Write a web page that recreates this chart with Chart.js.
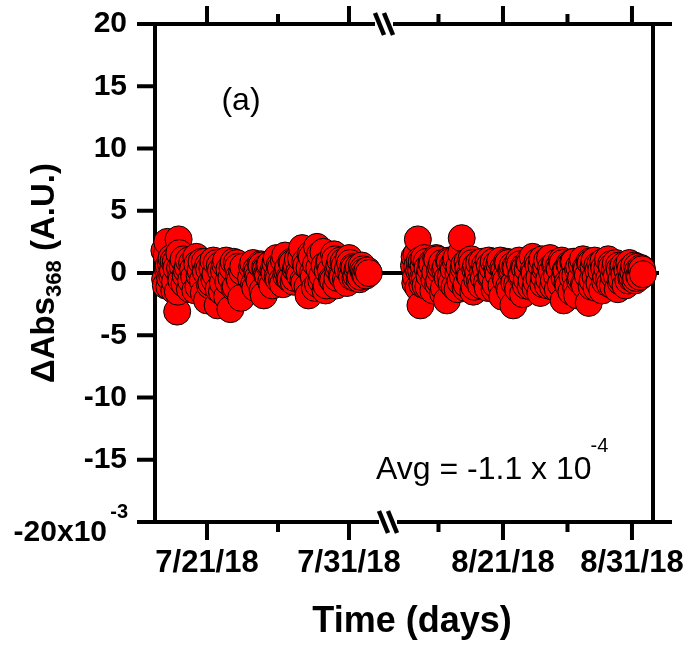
<!DOCTYPE html>
<html>
<head>
<meta charset="utf-8">
<script src="https://cdn.jsdelivr.net/npm/chart.js@4.4.0/dist/chart.umd.min.js"></script>
<style>
  html, body { margin: 0; padding: 0; background: #fff; }
  canvas { display: block; }
</style>
</head>
<body>
<canvas id="absChart" width="689" height="646"></canvas>
<script>
// July run: time as (fractional) day of July, delta Abs in 10^-3 A.U.
const julyTimes = [18.0, 18.1, 18.2, 18.3, 18.4, 18.5, 18.6, 18.7, 18.8, 18.9,
  19.0, 19.1, 19.2, 19.35, 19.5, 19.65, 19.8, 19.95, 20.1, 20.25, 20.4, 20.55, 20.7, 20.85,
  21.0, 21.15, 21.3, 21.45, 21.6, 21.75, 21.9, 22.05, 22.2, 22.35, 22.5, 22.65, 22.8, 22.95,
  23.1, 23.25, 23.4, 23.55, 24.1, 24.25, 24.4, 24.55, 24.7, 24.85, 25.0, 25.15, 25.3, 25.45,
  25.6, 25.75, 25.9, 26.05, 26.2, 26.35, 26.5, 26.65, 26.8, 26.95, 27.1, 27.25, 27.4, 27.55,
  27.7, 27.85, 28.0, 28.15, 28.3, 28.45, 28.6, 28.75, 28.9, 29.05, 29.2, 29.35, 29.5, 29.65,
  29.8, 29.95, 30.1, 30.25, 30.4, 30.55, 30.7, 30.85, 31.0, 31.15, 31.3, 31.45, 31.6, 31.75,
  31.9, 32.05, 32.2, 32.4];
const julyValues = [1.8, -1.0, 2.5, 0.6, -0.4, 1.2, 0.2, -1.4, 0.9, -3.1,
  2.7, 0.4, -0.6, 1.1, -0.2, 0.5, -1.3, 0.8, -0.3, 1.3, -1.1, 0.2, -0.6, 0.9,
  -2.2, 0.3, -0.8, 1.0, -0.1, -2.6, 0.6, -1.5, 0.2, 1.0, -0.7, -2.9, 0.4, -1.2,
  0.8, -0.3, -2.0, 0.5, -0.4, 0.8, -1.2, 0.1, -0.6, 0.6, -1.8, 0.3, -0.2, 0.7,
  -1.0, 0.0, 1.2, -0.5, 0.4, -0.9, 1.4, 0.1, -0.4, 0.9, -0.7, 0.3, 1.1, -0.2,
  2.0, -0.8, 0.6, -1.8, 1.5, 0.0, -1.2, 2.1, 0.4, -0.6, 1.7, -1.4, 0.2, 0.9,
  -0.5, 1.5, -1.0, 0.3, 1.0, -0.3, 0.6, -0.8, 1.2, 0.0, 0.5, -0.4, 0.3, -0.5,
  0.6, 0.1, -0.2, 0.0];
// second set of July readings between the ones above
const julyTimesB = [18.05, 18.15, 18.25, 18.35, 18.45, 18.55, 18.65, 18.75, 18.85, 18.95,
  19.05, 19.15, 19.28, 19.42, 19.58, 19.72, 19.88, 20.02, 20.18, 20.32,
  20.48, 20.62, 20.78, 20.92, 21.08, 21.22, 21.38, 21.52, 21.68, 21.82,
  21.98, 22.12, 22.28, 22.42, 22.58, 22.72, 22.88, 23.02, 23.18, 23.32,
  23.48, 24.18, 24.32, 24.48, 24.62, 24.78, 24.92, 25.08, 25.22, 25.38,
  25.52, 25.68, 25.82, 25.98, 26.12, 26.28, 26.42, 26.58, 26.72, 26.88,
  27.02, 27.18, 27.32, 27.48, 27.62, 27.78, 27.92, 28.08, 28.22, 28.38,
  28.52, 28.68, 28.82, 28.98, 29.12, 29.28, 29.42, 29.58, 29.72, 29.88,
  30.02, 30.18, 30.32, 30.48, 30.62, 30.78, 30.92, 31.08, 31.22, 31.38,
  31.52, 31.68, 31.82, 31.98, 32.12, 32.3];
const julyValuesB = [-0.5, 1.4, 0.3, -1.1, 0.8, -0.2, 1.0, -0.7, 0.4, -1.5,
  1.6, -0.4, 0.6, -0.9, 0.2, 1.0, -0.6, 0.3, -1.4, 0.7,
  -0.2, 0.9, -1.6, 0.1, 0.6, -1.0, 0.4, -0.5, 0.8, -1.3,
  0.2, -0.8, 0.7, -1.9, 0.3, -0.4, 0.9, -1.1, 0.5, -0.6,
  0.1, 0.5, -0.9, 0.3, -0.3, 0.7, -1.4, 0.4, -0.1, 0.6,
  -0.7, 0.2, 0.8, -0.3, 0.6, -0.6, 1.0, -0.2, 0.4, -0.5,
  0.8, -0.4, 0.5, 0.0, 1.2, -0.6, 0.9, -1.1, 0.4, 1.3,
  -0.3, 0.7, -0.9, 1.5, -0.2, 0.6, -1.0, 0.8, 0.2, -0.6,
  1.1, -0.4, 0.6, -0.2, 0.9, -0.5, 0.3, 0.8, -0.3, 0.4,
  -0.2, 0.5, -0.3, 0.3, -0.1, 0.2];

// August run: time as (fractional) day of August
const augTimes = [14.1, 14.2, 14.3, 14.4, 14.5, 14.6, 14.7, 14.8, 14.9, 15.0,
  15.15, 15.3, 15.45, 15.6, 15.75, 15.9, 16.05, 16.2, 16.35, 16.5, 16.65, 16.8, 16.95,
  17.1, 17.25, 17.4, 17.55, 17.7, 17.8, 17.95, 18.1, 18.25, 18.4, 18.55, 18.7, 18.85,
  19.0, 19.15, 19.3, 19.45, 19.6, 19.75, 19.9, 20.05, 20.2, 20.35, 20.5, 20.65, 20.8,
  20.95, 21.1, 21.25, 21.4, 21.55, 21.7, 21.8, 21.95, 22.1, 22.25, 22.4, 22.55, 22.7,
  22.85, 23.0, 23.15, 23.3, 23.45, 23.6, 23.75, 23.9, 24.05, 24.2, 24.35, 24.5, 24.65,
  24.8, 24.95, 25.1, 25.25, 25.4, 25.55, 25.7, 25.85, 26.0, 26.15, 26.3, 26.45, 26.6,
  26.75, 26.9, 27.05, 27.2, 27.35, 27.5, 27.65, 27.8, 27.95, 28.1, 28.25, 28.4, 28.55,
  28.7, 28.85, 29.0, 29.15, 29.3, 29.45, 29.6, 29.75, 29.9, 30.05, 30.2, 30.35, 30.5,
  30.65, 30.8, 30.95, 31.1, 31.25, 31.4, 31.55, 31.7, 31.85];
const augValues = [0.6, -0.8, 1.5, 2.7, 0.2, -2.6, 0.9, -0.4, 1.2, -1.0,
  0.4, -0.2, 0.8, -1.4, 0.1, 1.1, -0.6, 0.5, -1.6, 0.3, -2.2, 1.0, -0.3,
  0.6, -1.1, 1.2, 0.0, -0.7, 2.8, 0.4, -1.2, 0.9, -0.2, 1.1, -1.5, 0.3,
  -0.5, 0.8, -1.0, 0.1, 0.6, -0.8, 1.0, -0.3, 0.4, -1.3, 0.7, -0.1, 1.0,
  -1.9, 0.2, -0.6, 0.8, -1.4, 0.3, -2.6, 0.5, -0.9, 1.0, -0.2, -1.7, 0.4,
  -0.5, 0.9, -1.1, 1.3, 0.0, -0.7, 0.6, -1.6, 1.1, -0.3, 0.5, -1.0, 1.2,
  0.1, -0.6, 0.8, -1.3, 0.3, 1.0, -2.2, 0.2, -0.8, 0.7, -1.5, 0.9, -0.2,
  -1.8, 0.5, -0.4, 1.1, -1.0, 0.3, -2.4, 0.8, -0.6, 1.0, -1.2, 0.2, 0.7,
  -1.4, 0.4, -0.3, 1.1, -0.9, 0.5, -0.2, 0.8, -1.3, 0.3, -0.5, 0.6, -1.0,
  0.2, 0.8, -0.4, 0.1, -0.6, 0.5, -0.2, 0.4, -0.1];
// second set of August readings
const augTimesB = [14.15, 14.25, 14.35, 14.45, 14.55, 14.65, 14.75, 14.85, 14.95, 15.08,
  15.22, 15.38, 15.52, 15.68, 15.82, 15.98, 16.12, 16.28, 16.42, 16.58,
  16.72, 16.88, 17.02, 17.18, 17.32, 17.48, 17.62, 17.75, 17.88, 18.02,
  18.18, 18.32, 18.48, 18.62, 18.78, 18.92, 19.08, 19.22, 19.38, 19.52,
  19.68, 19.82, 19.98, 20.12, 20.28, 20.42, 20.58, 20.72, 20.88, 21.02,
  21.18, 21.32, 21.48, 21.62, 21.75, 21.88, 22.02, 22.18, 22.32, 22.48,
  22.62, 22.78, 22.92, 23.08, 23.22, 23.38, 23.52, 23.68, 23.82, 23.98,
  24.12, 24.28, 24.42, 24.58, 24.72, 24.88, 25.02, 25.18, 25.32, 25.48,
  25.62, 25.78, 25.92, 26.08, 26.22, 26.38, 26.52, 26.68, 26.82, 26.98,
  27.12, 27.28, 27.42, 27.58, 27.72, 27.88, 28.02, 28.18, 28.32, 28.48,
  28.62, 28.78, 28.92, 29.08, 29.22, 29.38, 29.52, 29.68, 29.82, 29.98,
  30.12, 30.28, 30.42, 30.58, 30.72, 30.88, 31.02, 31.18, 31.32, 31.48,
  31.62, 31.78];
const augValuesB = [1.3, -0.3, 0.5, -1.2, 1.0, 0.2, -0.9, 0.6, -0.4, 0.9,
  -1.1, 0.3, 0.7, -0.5, 1.2, -0.9, 0.2, 0.8, -1.2, 0.5,
  -0.4, 0.9, -0.8, 0.3, 1.0, -1.3, 0.5, 1.6, -0.2, 0.7,
  -0.9, 0.4, -0.3, 0.8, -1.1, 0.6, 0.1, -0.7, 0.9, -0.4,
  0.3, -1.2, 0.6, -0.2, 0.9, -0.9, 0.2, 0.7, -1.0, 0.4,
  -0.3, 0.9, -1.1, 0.2, 0.6, -0.8, 0.4, -1.3, 0.7, -0.1,
  0.5, -1.0, 0.3, 0.8, -0.6, 0.2, -1.2, 0.9, -0.4, 0.6,
  -0.9, 0.3, 1.0, -0.5, 0.4, -1.1, 0.7, -0.2, 0.5, -0.9,
  0.8, -0.4, 0.2, -1.0, 0.6, -0.3, 0.9, -1.2, 0.3, -0.6,
  0.7, -0.9, 0.4, -0.2, 0.9, -1.1, 0.5, -0.3, 0.6, -0.8,
  0.2, 0.9, -0.7, 0.4, -0.5, 0.7, -1.0, 0.3, -0.2, 0.6,
  -0.7, 0.4, -0.1, 0.5, -0.6, 0.3, -0.3, 0.6, -0.4, 0.2,
  -0.3, 0.3];

// axis ticks (day of month) and labels
const julyMajor = [21, 31];
const julyMinor = [26];
const julyLabels = ['7/21/18', '7/31/18'];
const augMajor = [21, 31];
const augMinor = [16, 26];
const augLabels = ['8/21/18', '8/31/18'];
const yMin = -20, yMax = 20, yStep = 5;

const FONT = '"Liberation Sans", Arial, sans-serif';

// merge both reading sets and keep them in time order (drawn in sequence)
function series(tA, vA, tB, vB) {
  const pts = tA.map((t, i) => ({ x: t, y: vA[i] }))
    .concat(tB.map((t, i) => ({ x: t, y: vB[i] })));
  return pts.sort((p, q) => p.x - q.x);
}

const axisFrame = {
  id: 'axisFrame',
  beforeDatasetsDraw(chart) {
    const { ctx, chartArea: a, scales } = chart;
    const xj = scales.xJuly, xa = scales.xAug, y = scales.y;
    const left = a.left - 18, right = a.right + 19;
    ctx.save();
    ctx.strokeStyle = '#000';
    ctx.lineWidth = 4;
    ctx.lineCap = 'butt';

    // zero line behind the points
    ctx.beginPath();
    ctx.moveTo(a.left, y.getPixelForValue(0));
    ctx.lineTo(a.right + 6, y.getPixelForValue(0));
    ctx.stroke();

    // vertical axes
    ctx.beginPath();
    ctx.moveTo(a.left, a.top - 2); ctx.lineTo(a.left, a.bottom + 2);
    ctx.moveTo(a.right, a.top - 2); ctx.lineTo(a.right, a.bottom + 2);
    ctx.stroke();

    // horizontal axes with break
    [[a.top, 384], [a.bottom, 388]].forEach(([yy, brk]) => {
      ctx.beginPath();
      ctx.moveTo(left, yy); ctx.lineTo(brk - 9, yy);
      ctx.moveTo(brk + 9, yy); ctx.lineTo(right, yy);
      ctx.stroke();
      ctx.save();
      ctx.lineWidth = 4.5;
      [-4.5, 4.5].forEach(o => {
        ctx.beginPath();
        ctx.moveTo(brk + o - 4.5, yy - 11);
        ctx.lineTo(brk + o + 4.5, yy + 11);
        ctx.stroke();
      });
      ctx.restore();
    });

    // y ticks (outside, left)
    ctx.beginPath();
    for (let v = yMin; v <= yMax; v += yStep) {
      const py = y.getPixelForValue(v);
      ctx.moveTo(left, py); ctx.lineTo(a.left, py);
    }
    ctx.stroke();

    // x ticks, bottom (down) and top (up)
    const xt = (scale, days, len) => {
      days.forEach(d => {
        const px = scale.getPixelForValue(d);
        ctx.moveTo(px, a.bottom); ctx.lineTo(px, a.bottom + len);
        ctx.moveTo(px, a.top); ctx.lineTo(px, a.top - len);
      });
    };
    ctx.beginPath();
    xt(xj, julyMajor, 18); xt(xj, julyMinor, 10);
    xt(xa, augMajor, 18); xt(xa, augMinor, 10);
    ctx.stroke();
    ctx.restore();
  },
  afterDraw(chart) {
    const { ctx, scales } = chart;
    ctx.save();
    ctx.fillStyle = '#000';

    // x tick labels
    ctx.font = 'bold 31px ' + FONT;
    ctx.textAlign = 'center';
    ctx.textBaseline = 'alphabetic';
    julyMajor.forEach((d, i) => ctx.fillText(julyLabels[i], scales.xJuly.getPixelForValue(d), 572));
    augMajor.forEach((d, i) => ctx.fillText(augLabels[i], scales.xAug.getPixelForValue(d), 572));

    // bottom y label with exponent
    ctx.textAlign = 'right';
    ctx.font = 'bold 30px ' + FONT;
    ctx.fillText('-20x10', 107, 541);
    ctx.font = 'bold 20px ' + FONT;
    ctx.fillText('-3', 128, 518);

    // x title
    ctx.textAlign = 'center';
    ctx.font = 'bold 36px ' + FONT;
    ctx.fillText('Time (days)', 412, 632);

    // panel label and average
    ctx.font = '32px ' + FONT;
    ctx.fillText('(a)', 241, 110);
    ctx.textAlign = 'left';
    ctx.fillText('Avg = -1.1 x 10', 376, 479);
    const w = ctx.measureText('Avg = -1.1 x 10').width;
    ctx.font = '20px ' + FONT;
    ctx.fillText('-4', 376 + w - 1, 452);

    // y title, rotated, with subscript
    ctx.translate(42, 273);
    ctx.rotate(-Math.PI / 2);
    ctx.textAlign = 'left';
    const big = 'bold 33px ' + FONT, small = 'bold 22px ' + FONT;
    ctx.font = big;
    const w1 = ctx.measureText('\u0394Abs').width;
    const w3 = ctx.measureText(' (A.U.)').width;
    ctx.font = small;
    const w2 = ctx.measureText('368').width;
    let x0 = -(w1 + w2 + w3) / 2;
    ctx.font = big;
    ctx.fillText('\u0394Abs', x0, 11.5);
    ctx.font = small;
    ctx.fillText('368', x0 + w1, 19);
    ctx.font = big;
    ctx.fillText(' (A.U.)', x0 + w1 + w2, 11.5);
    ctx.restore();
  }
};

const pointStyle = {
  showLine: false,
  pointRadius: 13.5,
  pointHoverRadius: 13.5,
  pointBackgroundColor: '#ff0000',
  pointBorderColor: '#000',
  pointBorderWidth: 1,
  clip: false
};

new Chart(document.getElementById('absChart'), {
  type: 'scatter',
  data: {
    datasets: [
      Object.assign({
        label: 'July',
        xAxisID: 'xJuly',
        data: series(julyTimes, julyValues, julyTimesB, julyValuesB)
      }, pointStyle),
      Object.assign({
        label: 'August',
        xAxisID: 'xAug',
        data: series(augTimes, augValues, augTimesB, augValuesB)
      }, pointStyle)
    ]
  },
  options: {
    responsive: false,
    animation: false,
    events: [],
    layout: { padding: { left: 0, right: 36, top: 24, bottom: 124 } },
    plugins: { legend: { display: false }, tooltip: { enabled: false } },
    scales: {
      // July segment: 14.2 px/day, 7/21 sits 52 px right of the left axis
      xJuly: { type: 'linear', display: false, min: 17.338, max: 52.41 },
      // August segment: 12.9 px/day, 8/21 sits 348 px right of the left axis
      xAug: { type: 'linear', display: false, min: -5.977, max: 32.63 },
      y: {
        min: yMin, max: yMax,
        grid: { display: false, drawTicks: false },
        border: { display: false },
        ticks: {
          stepSize: yStep,
          padding: 28,
          color: '#000',
          font: { family: FONT, size: 30, weight: 'bold', lineHeight: 1 },
          callback: v => (v === yMin ? '' : v)
        },
        afterFit: s => {
          s.width = 155;
          s.paddingTop = 0;
          s.paddingBottom = 0;
        }
      }
    }
  },
  plugins: [axisFrame]
});
</script>
</body>
</html>
